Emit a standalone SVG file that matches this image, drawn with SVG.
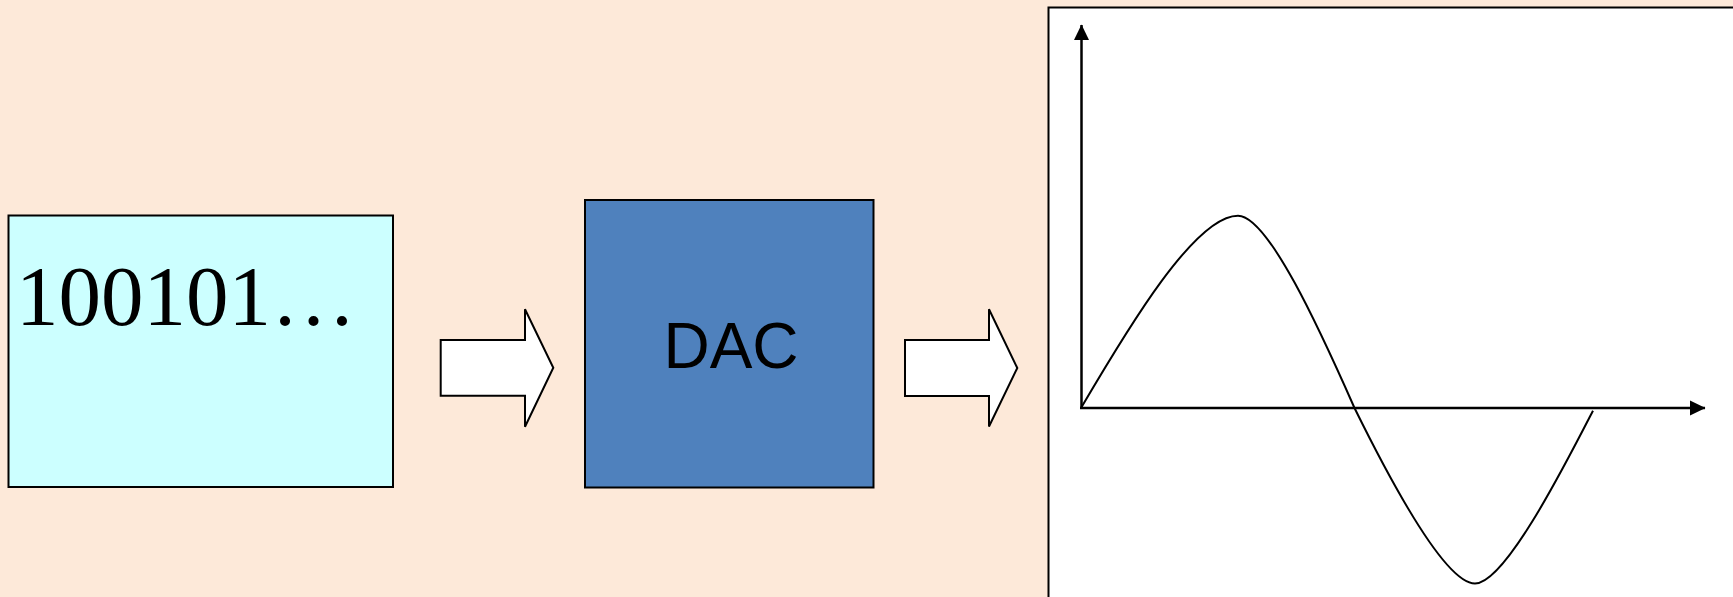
<svg xmlns="http://www.w3.org/2000/svg" width="1733" height="597" viewBox="0 0 1733 597">
  <style>
    .box { stroke: #000; stroke-width: 2; }
    .blockarrow { fill: #fff; stroke: #000; stroke-width: 2; stroke-linejoin: miter; }
    .axis { stroke: #000; stroke-width: 2.5; fill: none; }
    .wave { stroke: #000; stroke-width: 2; fill: none; }
  </style>
  <defs>
    <marker id="ah" viewBox="0 0 16 16" refX="15" refY="8" markerUnits="userSpaceOnUse" markerWidth="16" markerHeight="16" orient="auto">
      <path d="M0,0.5 L15.5,8 L0,15.5 Z" fill="#000"/>
    </marker>
  </defs>
  <rect x="0" y="0" width="1733" height="597" fill="#FDE9D9"/>

  <g id="digital-input">
    <rect class="box" x="8.5" y="215.5" width="384.5" height="271.5" fill="#CCFFFF"/>
    <text x="16" y="325" font-family="'Liberation Serif', 'Times New Roman', serif" font-size="85" fill="#000">100101…</text>
  </g>

  <g id="dac">
    <rect class="box" x="585" y="200" width="288.5" height="287.5" fill="#4F81BD"/>
    <text x="731" y="367.5" text-anchor="middle" font-family="'Liberation Sans', Arial, sans-serif" font-size="64" fill="#000">DAC</text>
  </g>

  <g id="analog-output">
    <rect class="box" x="1048.5" y="7.5" width="700" height="600" fill="#fff"/>
    <path class="wave" d="M1081,408 C1128,328 1195,215.7 1238,215.7 C1268,215.7 1320,330 1354.5,408 C1390,480 1445,583.5 1475,583.5 C1505,583.5 1565,465 1593,410.7"/>
  </g>

  <g id="connectors">
    <polygon class="blockarrow" points="440.7,340 525,340 525,309.3 553.3,367.7 525,426.7 525,395.7 440.7,395.7"/>
    <polygon class="blockarrow" points="905,340 989,340 989,309.3 1017.3,368 989,426.5 989,396 905,396"/>
    <line class="axis" x1="1081.5" y1="409" x2="1081.5" y2="25" marker-end="url(#ah)"/>
    <line class="axis" x1="1080" y1="408" x2="1705" y2="408" marker-end="url(#ah)"/>
  </g>
</svg>
